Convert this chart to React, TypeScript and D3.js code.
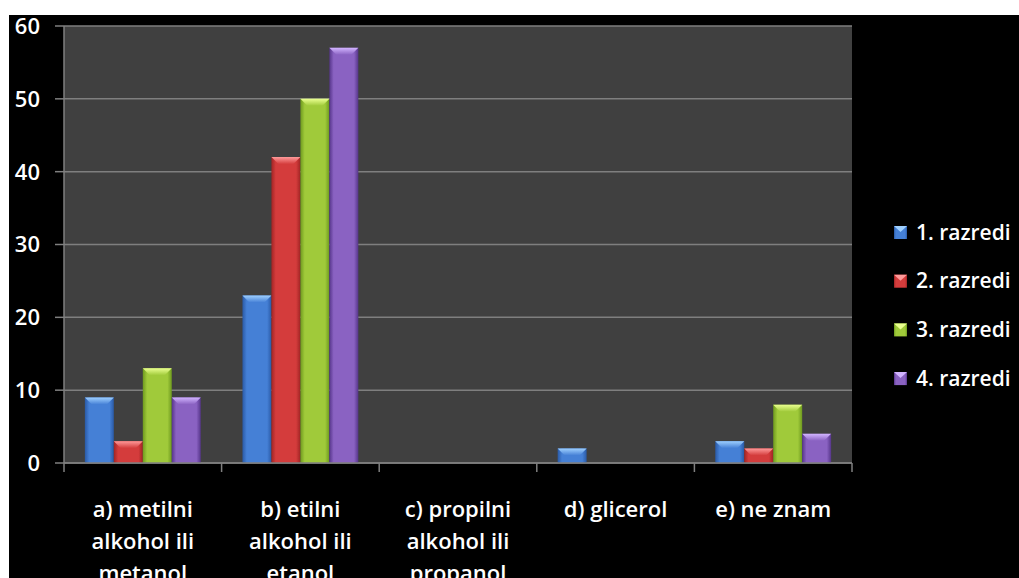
import React from "react";
import * as d3 from "d3";

const categories = [
  ["a) metilni", "alkohol ili", "metanol"],
  ["b) etilni", "alkohol ili", "etanol"],
  ["c) propilni", "alkohol ili", "propanol"],
  ["d) glicerol"],
  ["e) ne znam"],
];
const seriesNames = ["1. razredi", "2. razredi", "3. razredi", "4. razredi"];
const s1 = [9, 23, 0, 2, 3];
const s2 = [3, 42, 0, 0, 2];
const s3 = [13, 50, 0, 0, 8];
const s4 = [9, 57, 0, 0, 4];
const series = [s1, s2, s3, s4];
const yTicks = [0, 10, 20, 30, 40, 50, 60];

const colors = [
  { dark: "#2a5aa6", mid: "#4580d6", light: "#9fd0ff" },
  { dark: "#a02424", mid: "#d43c3c", light: "#ff9a9a" },
  { dark: "#6e9a1e", mid: "#a0ca3a", light: "#eaff90" },
  { dark: "#56358a", mid: "#8a62c2", light: "#d2b4ff" },
];

const W = 1019;
const H = 578;
const left = 64;
const right = 852;
const top = 26;
const bottom = 463;
const font = "'Open Sans', sans-serif";

export default function App() {
  const x0 = d3
    .scaleBand<number>()
    .domain(categories.map((_, i) => i))
    .range([left, right])
    .paddingInner(0)
    .paddingOuter(0);
  const x1 = d3
    .scaleBand<number>()
    .domain(series.map((_, i) => i))
    .range([0, x0.bandwidth()])
    .paddingOuter(0.72)
    .paddingInner(0);
  const y = d3.scaleLinear().domain([0, 60]).range([bottom, top]);

  return (
    <div style={{ position: "absolute", left: 0, top: 0, width: W, height: H }}>
      <svg width={W} height={H} style={{ display: "block" }}>
        <defs>
          {colors.map((c, i) => (
            <linearGradient key={i} id={`g${i}`} x1="0" x2="1" y1="0" y2="0">
              <stop offset="0" stopColor={c.dark} />
              <stop offset="0.15" stopColor={c.mid} />
              <stop offset="0.85" stopColor={c.mid} />
              <stop offset="1" stopColor={c.dark} />
            </linearGradient>
          ))}
          {colors.map((c, i) => (
            <linearGradient key={i} id={`t${i}`} x1="0" x2="0" y1="0" y2="1">
              <stop offset="0" stopColor={c.light} />
              <stop offset="1" stopColor={c.mid} />
            </linearGradient>
          ))}
        </defs>
        <rect x={0} y={0} width={W} height={H} fill="#ffffff" />
        <rect x={9} y={15} width={W - 9} height={H - 15} fill="#000000" />
        <rect x={left} y={top} width={right - left} height={bottom - top} fill="#404040" />
        {yTicks.map((t) => (
          <g key={t}>
            <line x1={left} x2={right} y1={y(t)} y2={y(t)} stroke="#7f7f7f" strokeWidth={1.5} />
            <line x1={left - 9} x2={left} y1={y(t)} y2={y(t)} stroke="#7f7f7f" strokeWidth={1.5} />
            <text
              x={40}
              y={y(t)}
              dy="0.36em"
              textAnchor="end"
              fill="#ffffff"
              fontFamily={font}
              fontWeight={600}
              fontSize={22}
            >
              {t}
            </text>
          </g>
        ))}
        <line x1={left} x2={left} y1={top} y2={bottom} stroke="#7f7f7f" strokeWidth={1.5} />
        {categories.map((_, i) => (
          <line
            key={i}
            x1={x0(i)!}
            x2={x0(i)!}
            y1={bottom}
            y2={bottom + 9}
            stroke="#7f7f7f"
            strokeWidth={1.5}
          />
        ))}
        <line x1={right} x2={right} y1={bottom} y2={bottom + 9} stroke="#7f7f7f" strokeWidth={1.5} />
        {categories.map((_, ci) =>
          series.map((s, si) => {
            const v = s[ci];
            if (v <= 0) return null;
            const bx = x0(ci)! + x1(si)!;
            const bw = x1.bandwidth();
            const by = y(v);
            const bh = bottom - by;
            const cap = Math.min(7, bh);
            const inset = Math.min(7, bw / 4);
            return (
              <g key={`${ci}-${si}`}>
                <rect x={bx} y={by} width={bw} height={bh} fill={`url(#g${si})`} />
                <polygon
                  points={`${bx},${by} ${bx + bw},${by} ${bx + bw - inset},${by + cap} ${bx + inset},${by + cap}`}
                  fill={`url(#t${si})`}
                />
              </g>
            );
          })
        )}
        <line x1={left} x2={right} y1={bottom} y2={bottom} stroke="#7f7f7f" strokeWidth={1.5} />
        {categories.map((lines, ci) => (
          <text
            key={ci}
            x={x0(ci)! + x0.bandwidth() / 2}
            y={517}
            textAnchor="middle"
            fill="#ffffff"
            fontFamily={font}
            fontWeight={600}
            fontSize={22}
          >
            {lines.map((l, li) => (
              <tspan key={li} x={x0(ci)! + x0.bandwidth() / 2} dy={li === 0 ? 0 : 32}>
                {l}
              </tspan>
            ))}
          </text>
        ))}
        {seriesNames.map((n, i) => {
          const ly = 232 + i * 48.7;
          return (
            <g key={n}>
              <rect x={894} y={ly - 6} width={13} height={13} fill={`url(#g${i})`} />
              <polygon
                points={`${894},${ly - 6} ${907},${ly - 6} ${900.5},${ly}`}
                fill={colors[i].light}
              />
              <text x={916} y={ly} dy="0.36em" fill="#ffffff" fontFamily={font} fontWeight={600} fontSize={21}>
                {n}
              </text>
            </g>
          );
        })}
      </svg>
    </div>
  );
}
